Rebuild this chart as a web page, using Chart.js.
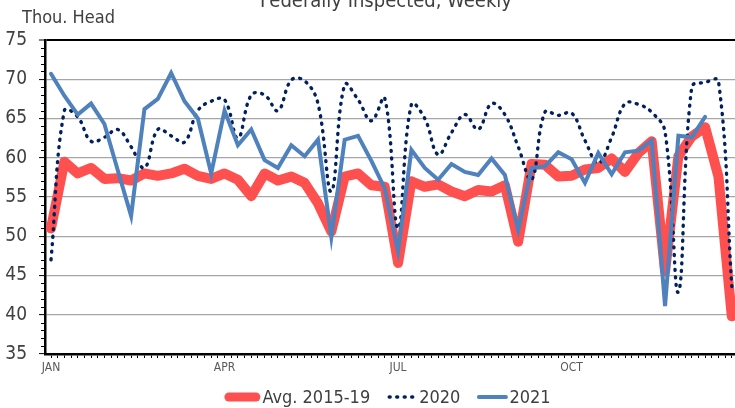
<!doctype html>
<html>

<head>
	<title>Cattle Slaughter</title>
	<script src="https://cdn.jsdelivr.net/npm/chart.js@4.4.1/dist/chart.umd.min.js"></script>
	<style>
		html, body {
			margin: 0;
			padding: 0;
			background: #fff;
		}
		#canvas-holder {
			width: 735px;
			height: 408px;
		}
	</style>
</head>

<body>
	<div id="canvas-holder">
		<canvas id="chart-area"></canvas>
	</div>
	<script>
		var FONT = "'Liberation Sans Narrow', 'Arial Narrow', 'DejaVu Sans Condensed', sans-serif";

		// weekly values, thousand head (week 0 = first week of January)
		var avg1519 = [51.0, 59.5, 58.0, 58.7, 57.3, 57.4, 57.1, 58.0, 57.7, 58.0,
			58.6, 57.7, 57.3, 58.0, 57.2, 55.1, 58.0, 57.1, 57.6, 56.8,
			54.2, 50.6, 57.6, 58.0, 56.5, 56.3, 46.6, 57.0, 56.3, 56.6,
			55.7, 55.1, 55.9, 55.7, 56.5, 49.3, 59.2, 59.1, 57.6, 57.7,
			58.5, 58.7, 59.9, 58.2, 60.6, 62.1, 45.5, 60.2, 62.7, 63.9,
			57.6, 39.8];
		var y2020 = [47.0, 66.0, 65.2, 62.1, 62.6, 63.6, 61.4, 58.7, 63.6, 62.8,
			62.0, 66.0, 67.2, 67.4, 62.5, 68.0, 68.0, 66.0, 69.9, 69.8,
			66.9, 55.7, 69.3, 67.4, 64.7, 67.6, 51.0, 66.8, 65.0, 60.4,
			63.2, 65.5, 63.6, 66.9, 65.5, 61.4, 57.2, 65.8, 65.4, 65.7,
			62.2, 59.3, 62.6, 66.9, 66.8, 65.8, 63.3, 42.9, 69.0, 69.6,
			69.8, 43.6];
		var y2021 = [70.7, 67.9, 65.5, 66.9, 64.3, 58.4, 52.6, 66.2, 67.5, 70.8,
			67.2, 65.0, 58.0, 66.0, 61.6, 63.6, 59.7, 58.7, 61.6, 60.2,
			62.3, 49.9, 62.3, 62.8, 59.6, 56.1, 48.1, 61.0, 58.7, 57.2,
			59.2, 58.2, 57.8, 59.9, 57.8, 50.8, 58.7, 58.9, 60.7, 59.8,
			56.8, 60.6, 57.9, 60.7, 60.9, 62.2, 41.1, 62.8, 62.6, 65.2];

		var monthLabels = ['JAN', 'APR', 'JUL', 'OCT'];
		var monthWeeks = [0, 13, 26, 39];
		var yTicks = [35, 40, 45, 50, 55, 60, 65, 70, 75];

		var toPoints = function (arr) {
			return arr.map(function (v, i) { return { x: i, y: v }; });
		};

		// title and unit label sit above the plot
		var headerText = {
			id: 'headerText',
			afterDraw: function (chart) {
				var ctx = chart.ctx;
				ctx.save();
				ctx.fillStyle = '#404040';
				ctx.textBaseline = 'alphabetic';
				ctx.font = '20px ' + FONT;
				ctx.textAlign = 'center';
				ctx.fillText('Federally Inspected, Weekly', 386, 7);
				ctx.font = '18px ' + FONT;
				ctx.textAlign = 'left';
				ctx.fillText('Thou. Head', 22, 23);
				ctx.restore();
			}
		};

		// small ticks for every unit on the value axis
		var minorTicks = {
			id: 'minorTicks',
			afterDraw: function (chart) {
				var ys = chart.scales.y;
				var ctx = chart.ctx;
				ctx.save();
				ctx.strokeStyle = '#000';
				ctx.lineWidth = 1;
				ctx.beginPath();
				for (var v = ys.min; v <= ys.max; v++) {
					if (v % 5 === 0) continue;
					var py = Math.round(ys.getPixelForValue(v)) + 0.5;
					ctx.moveTo(ys.right - 4, py);
					ctx.lineTo(ys.right, py);
				}
				ctx.stroke();
				ctx.restore();
			}
		};

		// legend drawn by hand so the dotted sample keeps its dots
		var bottomLegend = {
			id: 'bottomLegend',
			afterDraw: function (chart) {
				var ctx = chart.ctx;
				var sets = chart.data.datasets;
				var sampleLen = [36, 30, 30];
				var gap = 17, textGap = 2, cy = 397;
				ctx.save();
				ctx.font = '18px ' + FONT;
				var total = 0;
				sets.forEach(function (ds, i) {
					total += sampleLen[i] + textGap + ctx.measureText(ds.label).width;
				});
				total += gap * (sets.length - 1);
				var x = chart.width / 2 + 20 - total / 2;
				sets.forEach(function (ds, i) {
					var len = sampleLen[i];
					var lw = ds.borderWidth;
					ctx.beginPath();
					ctx.strokeStyle = ds.borderColor;
					ctx.lineWidth = lw > 8 ? 9 : lw;
					ctx.lineCap = 'round';
					ctx.setLineDash(ds.borderDash || []);
					var inset = lw > 8 ? 4.5 : (ds.borderDash ? 2 : 1.5);
					ctx.moveTo(x + inset, cy);
					ctx.lineTo(x + len - inset, cy);
					ctx.stroke();
					ctx.setLineDash([]);
					x += len + textGap;
					ctx.fillStyle = '#404040';
					ctx.textAlign = 'left';
					ctx.textBaseline = 'middle';
					ctx.fillText(ds.label, x, cy + 1);
					x += ctx.measureText(ds.label).width + gap;
				});
				ctx.restore();
			}
		};

		var config = {
			type: 'line',
			data: {
				datasets: [{
					label: 'Avg. 2015-19',
					data: toPoints(avg1519),
					borderColor: '#ff5050',
					backgroundColor: '#ff5050',
					borderWidth: 10,
					borderJoinStyle: 'round',
					borderCapStyle: 'round',
					pointRadius: 0,
					order: 3
				}, {
					label: '2020',
					data: toPoints(y2020),
					borderColor: '#002060',
					backgroundColor: '#002060',
					borderWidth: 3.4,
					borderDash: [1, 6.5],
					borderCapStyle: 'round',
					tension: 0.4,
					pointRadius: 0,
					order: 2
				}, {
					label: '2021',
					data: toPoints(y2021),
					borderColor: '#4f81bd',
					backgroundColor: '#4f81bd',
					borderWidth: 4,
					borderCapStyle: 'round',
					pointRadius: 0,
					order: 1
				}]
			},
			options: {
				responsive: true,
				maintainAspectRatio: false,
				animation: false,
				layout: {
					padding: { top: 40, left: 0, right: 0, bottom: 32 }
				},
				plugins: {
					title: { display: false },
					tooltip: { enabled: false },
					legend: { display: false }
				},
				scales: {
					x: {
						type: 'linear',
						min: -0.45,
						max: 51.24,
						afterBuildTicks: function (scale) {
							var t = [];
							for (var w = 0; w <= 51; w += 0.5) t.push({ value: w });
							scale.ticks = t;
						},
						afterFit: function (scale) {
							scale.height = 22;
						},
						border: { color: '#000', width: 2.5 },
						grid: {
							drawOnChartArea: false,
							color: '#000',
							tickLength: 4,
							tickWidth: 1
						},
						ticks: {
							autoSkip: false,
							maxRotation: 0,
							padding: 3,
							color: '#595959',
							font: { family: FONT, size: 12 },
							callback: function (value) {
								var k = monthWeeks.indexOf(value);
								return k >= 0 ? monthLabels[k] : '';
							}
						}
					},
					y: {
						min: yTicks[0],
						max: yTicks[yTicks.length - 1],
						afterBuildTicks: function (scale) {
							scale.ticks = yTicks.map(function (v) { return { value: v }; });
						},
						afterFit: function (scale) {
							scale.width = 45;
						},
						border: { color: '#000', width: 2.5 },
						grid: {
							color: function (c) {
								return c.tick && c.tick.value === 75 ? '#000' : '#a6a6a6';
							},
							lineWidth: function (c) {
								return c.tick && c.tick.value === 75 ? 2 : 1.2;
							},
							tickColor: '#000',
							tickWidth: 1,
							tickLength: 6
						},
						ticks: {
							padding: 12,
							color: '#404040',
							font: { family: FONT, size: 19 }
						}
					}
				}
			},
			plugins: [headerText, minorTicks, bottomLegend]
		};

		window.onload = function () {
			var ctx = document.getElementById('chart-area').getContext('2d');
			window.myLine = new Chart(ctx, config);
		};
	</script>
</body>

</html>
